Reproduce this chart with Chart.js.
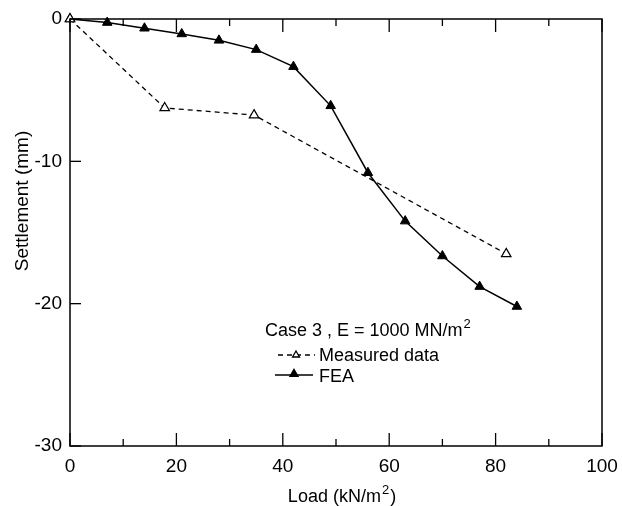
<!DOCTYPE html>
<html>
<head>
<meta charset="utf-8">
<script src="https://cdn.jsdelivr.net/npm/chart.js@4.4.1/dist/chart.umd.min.js"></script>
<style>
  html, body { margin: 0; padding: 0; background: #fff; }
  #wrap { width: 622px; height: 506px; }
</style>
</head>
<body>
<div id="wrap"><canvas id="chart" width="622" height="506"></canvas></div>
<script>
// load (kN/m2) vs settlement (mm)
const loadMeasured = [0, 17.8, 34.6, 82];
const settleMeasured = [0, -6.25, -6.75, -16.5];

const loadFEA = [0, 7, 14, 21, 28, 35, 42, 49, 56, 63, 70, 77, 84];
const settleFEA = [0, -0.25, -0.65, -1.05, -1.5, -2.15, -3.35, -6.1, -10.8, -14.2, -16.65, -18.8, -20.2];

const xRange = [0, 100];
const yRange = [-30, 0];
const xStep = 10;
const yStep = 10;

const seriesNames = ["Measured data", "FEA"];
const legendTitle = ["Case 3 , E = 1000 MN/m", "2", ""];
const xTitle = ["Load (kN/m", "2", ")"];
const yTitle = "Settlement (mm)";

const FONT = "'Liberation Sans', Arial, sans-serif";
Chart.defaults.font.family = FONT;
Chart.defaults.color = "#000";

function toPoints(xs, ys) {
  return xs.map((x, i) => ({ x, y: ys[i] }));
}

function line(ctx, x1, y1, x2, y2) {
  ctx.beginPath();
  ctx.moveTo(x1, y1);
  ctx.lineTo(x2, y2);
  ctx.stroke();
}

function triangle(ctx, x, y, r, filled) {
  ctx.beginPath();
  for (let i = 0; i < 3; i++) {
    const a = i * 2 * Math.PI / 3;
    const px = x + Math.sin(a) * r;
    const py = y - Math.cos(a) * r;
    if (i === 0) ctx.moveTo(px, py); else ctx.lineTo(px, py);
  }
  ctx.closePath();
  ctx.fillStyle = filled ? "#000" : "#fff";
  ctx.fill();
  ctx.stroke();
}

// text with a superscript in the middle: [base, sup, tail]
function supText(ctx, parts, x, y, size, centered) {
  const [base, sup, tail] = parts;
  const supSize = Math.round(size * 0.7);
  ctx.font = `${size}px ${FONT}`;
  const wb = ctx.measureText(base).width;
  const wt = ctx.measureText(tail).width;
  ctx.font = `${supSize}px ${FONT}`;
  const ws = ctx.measureText(sup).width;
  const sx = centered ? x - (wb + ws + wt + 2) / 2 : x;
  ctx.textAlign = "left";
  ctx.textBaseline = "alphabetic";
  ctx.font = `${size}px ${FONT}`;
  ctx.fillText(base, sx, y);
  ctx.font = `${supSize}px ${FONT}`;
  ctx.fillText(sup, sx + wb + 1, y - size * 0.45);
  ctx.font = `${size}px ${FONT}`;
  ctx.fillText(tail, sx + wb + ws + 2, y);
}

const framePlugin = {
  id: "frame",
  afterDraw(chart) {
    const { ctx, chartArea: a, scales: { x, y } } = chart;
    ctx.save();
    ctx.strokeStyle = "#000";
    ctx.lineWidth = 1.5;
    ctx.setLineDash([]);
    ctx.strokeRect(a.left, a.top, a.right - a.left, a.bottom - a.top);

    ctx.lineWidth = 1.3;
    for (const t of x.ticks) {
      const px = x.getPixelForValue(t.value);
      const len = t.value % 20 === 0 ? 13 : 7;
      line(ctx, px, a.bottom, px, a.bottom - len);
      line(ctx, px, a.top, px, a.top + len);
    }
    for (const t of y.ticks) {
      const py = y.getPixelForValue(t.value);
      line(ctx, a.left, py, a.left + 11, py);
    }

    // axis titles
    ctx.fillStyle = "#000";
    supText(ctx, xTitle, 342, 502, 18, true);
    ctx.save();
    ctx.translate(28, 201);
    ctx.rotate(-Math.PI / 2);
    ctx.font = `19px ${FONT}`;
    ctx.textAlign = "center";
    ctx.textBaseline = "alphabetic";
    ctx.fillText(yTitle, 0, 0);
    ctx.restore();

    // legend
    ctx.fillStyle = "#000";
    supText(ctx, legendTitle, 265, 336, 18, false);
    ctx.font = `18px ${FONT}`;
    ctx.textAlign = "left";
    ctx.fillStyle = "#000";
    ctx.fillText(seriesNames[0], 319, 361);
    ctx.fillText(seriesNames[1], 319, 382);

    ctx.lineWidth = 1.3;
    ctx.setLineDash([5, 4]);
    line(ctx, 278, 355, 315, 355);
    ctx.setLineDash([]);
    triangle(ctx, 296, 355, 4, false);

    ctx.lineWidth = 1.5;
    line(ctx, 275, 375, 313, 375);
    triangle(ctx, 294, 374, 4.5, true);
    ctx.restore();
  }
};

new Chart(document.getElementById("chart"), {
  type: "line",
  data: {
    datasets: [
      {
        label: seriesNames[0],
        data: toPoints(loadMeasured, settleMeasured),
        borderColor: "#000",
        borderWidth: 1.3,
        borderDash: [5, 4],
        pointStyle: "triangle",
        pointRadius: 5.5,
        pointBackgroundColor: "#fff",
        pointBorderColor: "#000",
        pointBorderWidth: 1.2,
        tension: 0,
        fill: false,
        clip: false
      },
      {
        label: seriesNames[1],
        data: toPoints(loadFEA, settleFEA),
        borderColor: "#000",
        borderWidth: 1.5,
        pointStyle: "triangle",
        pointRadius: 5.5,
        pointBackgroundColor: "#000",
        pointBorderColor: "#000",
        pointBorderWidth: 1,
        tension: 0,
        fill: false,
        clip: false
      }
    ]
  },
  options: {
    responsive: false,
    animation: false,
    layout: { padding: { top: 19, right: 20, left: 0, bottom: 0 } },
    plugins: { legend: { display: false }, tooltip: { enabled: false } },
    scales: {
      x: {
        type: "linear",
        min: xRange[0],
        max: xRange[1],
        grid: { display: false, drawTicks: false },
        border: { display: false },
        ticks: {
          stepSize: xStep,
          padding: 9,
          maxRotation: 0,
          font: { size: 19 },
          callback: (v) => (v % 20 === 0 ? v : "")
        },
        afterFit(s) { s.height = 60; s.paddingLeft = 0; s.paddingRight = 0; }
      },
      y: {
        type: "linear",
        min: yRange[0],
        max: yRange[1],
        grid: { display: false, drawTicks: false },
        border: { display: false },
        ticks: { stepSize: yStep, padding: 8, font: { size: 19 } },
        afterFit(s) { s.width = 70; s.paddingTop = 0; s.paddingBottom = 0; }
      }
    }
  },
  plugins: [framePlugin]
});
</script>
</body>
</html>
